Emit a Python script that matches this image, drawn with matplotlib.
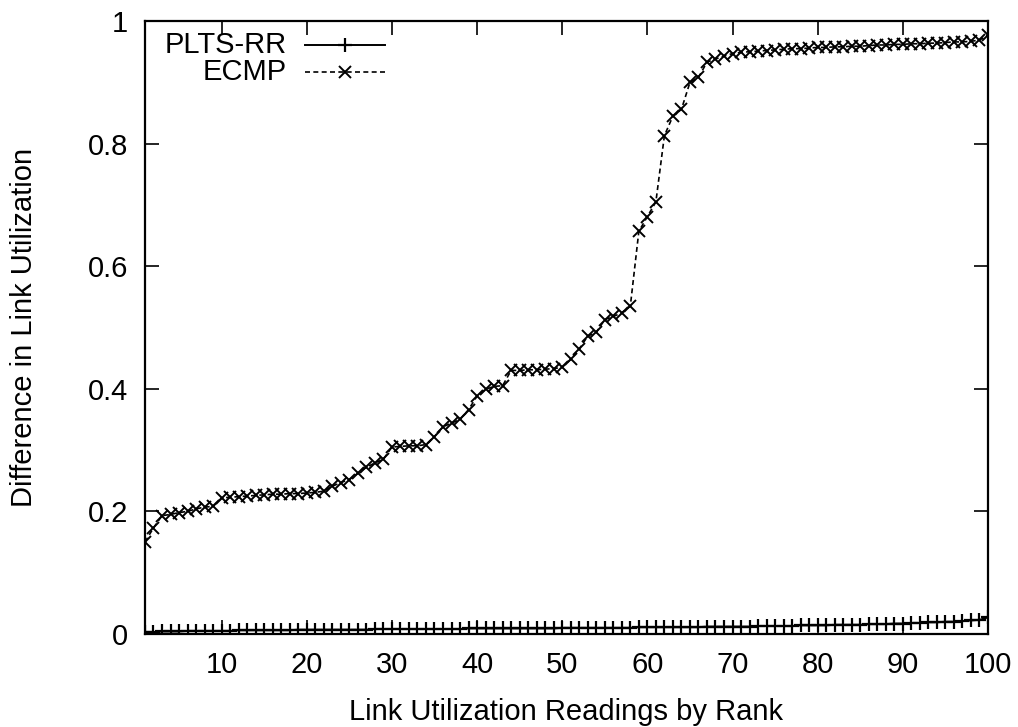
import numpy as np
import matplotlib
matplotlib.use("Agg")
import matplotlib.pyplot as plt
from matplotlib.lines import Line2D

# Link utilization readings, sorted by rank
ranks = list(range(1, 101))

plts_rr = [
    0.003, 0.003, 0.004, 0.004, 0.004, 0.005, 0.005, 0.005, 0.005, 0.005,
    0.005, 0.006, 0.006, 0.006, 0.006, 0.006, 0.006, 0.006, 0.007, 0.007,
    0.007, 0.007, 0.007, 0.007, 0.007, 0.007, 0.007, 0.008, 0.008, 0.008,
    0.008, 0.008, 0.008, 0.008, 0.008, 0.008, 0.008, 0.008, 0.009, 0.009,
    0.009, 0.009, 0.009, 0.009, 0.009, 0.009, 0.009, 0.009, 0.009, 0.010,
    0.010, 0.010, 0.010, 0.010, 0.010, 0.010, 0.010, 0.010, 0.011, 0.011,
    0.011, 0.011, 0.011, 0.011, 0.011, 0.011, 0.012, 0.012, 0.012, 0.012,
    0.012, 0.012, 0.013, 0.013, 0.013, 0.013, 0.013, 0.014, 0.014, 0.014,
    0.014, 0.015, 0.015, 0.015, 0.015, 0.016, 0.016, 0.016, 0.017, 0.017,
    0.018, 0.018, 0.019, 0.019, 0.020, 0.020, 0.021, 0.022, 0.023, 0.027,
]

ecmp = [
    0.150, 0.173, 0.193, 0.195, 0.198, 0.200, 0.204, 0.207, 0.208, 0.222,
    0.223, 0.224, 0.225, 0.226, 0.227, 0.228, 0.228, 0.229, 0.229, 0.230,
    0.231, 0.233, 0.241, 0.247, 0.252, 0.262, 0.272, 0.279, 0.285, 0.305,
    0.306, 0.307, 0.307, 0.309, 0.322, 0.338, 0.344, 0.350, 0.366, 0.388,
    0.399, 0.404, 0.405, 0.430, 0.430, 0.431, 0.431, 0.432, 0.433, 0.435,
    0.448, 0.465, 0.486, 0.492, 0.513, 0.518, 0.524, 0.535, 0.657, 0.681,
    0.705, 0.813, 0.845, 0.856, 0.900, 0.908, 0.933, 0.938, 0.943, 0.947,
    0.949, 0.950, 0.951, 0.952, 0.953, 0.954, 0.955, 0.955, 0.956, 0.957,
    0.957, 0.958, 0.958, 0.959, 0.959, 0.960, 0.961, 0.961, 0.962, 0.962,
    0.963, 0.963, 0.964, 0.964, 0.965, 0.966, 0.966, 0.967, 0.969, 0.977,
]

x_ticks = list(range(10, 101, 10))
y_ticks = [0, 0.2, 0.4, 0.6, 0.8, 1]
y_tick_labels = ["0", "0.2", "0.4", "0.6", "0.8", "1"]

plt.rcParams.update({"font.family": ["Liberation Sans", "DejaVu Sans"], "font.size": 21})

fig = plt.figure(figsize=(10.18, 7.27), dpi=100)
ax = fig.add_axes([0.1424, 0.128, 0.8281, 0.843])

ax.plot(ranks, plts_rr, color="black", linestyle="-", linewidth=1.4,
        marker="+", markersize=10, markeredgewidth=1.6)
ax.plot(ranks, ecmp, color="black", linestyle=(0, (3, 2)), linewidth=1.2,
        marker="x", markersize=9, markeredgewidth=1.4)

ax.set_xlim(1, 100)
ax.set_ylim(0, 1)
ax.set_xticks(x_ticks)
ax.set_yticks(y_ticks)
ax.set_yticklabels(y_tick_labels)
ax.tick_params(direction="in", length=10, width=1.2, top=True, right=True)
ax.tick_params(axis="x", pad=12)
ax.tick_params(axis="y", pad=12)
for s in ax.spines.values():
    s.set_linewidth(1.6)

ax.set_xlabel("Link Utilization Readings by Rank", labelpad=14)
ax.set_ylabel("Difference in Link Utilization", labelpad=36)

# gnuplot style key: right-justified labels, sample to the right
ax.text(0.168, 0.961, "PLTS-RR", transform=ax.transAxes, ha="right", va="center")
ax.text(0.168, 0.917, "ECMP", transform=ax.transAxes, ha="right", va="center")
ax.add_line(Line2D([0.19, 0.285], [0.961, 0.961], transform=ax.transAxes,
                   color="black", linewidth=1.4))
ax.add_line(Line2D([0.2375], [0.961], transform=ax.transAxes, color="black",
                   marker="+", markersize=10, markeredgewidth=1.6))
ax.add_line(Line2D([0.19, 0.285], [0.917, 0.917], transform=ax.transAxes,
                   color="black", linewidth=1.2, linestyle=(0, (3, 2))))
ax.add_line(Line2D([0.2375], [0.917], transform=ax.transAxes, color="black",
                   marker="x", markersize=9, markeredgewidth=1.4))

fig.savefig("out.png", dpi=100)
